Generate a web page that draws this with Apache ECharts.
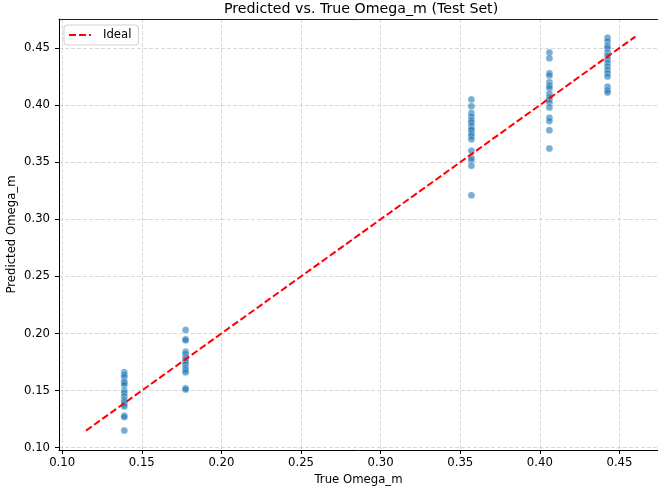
<!DOCTYPE html>
<html>
<head>
<meta charset="utf-8">
<script src="https://cdn.jsdelivr.net/npm/echarts@6/dist/echarts.min.js"></script>
<style>
html,body{margin:0;padding:0;background:#fff;}
#chart{width:658px;height:492px;}
</style>
</head>
<body>
<div id="chart"></div>
<script>
// True Omega_m values of the test-set groups
const trueValues = [0.139, 0.1775, 0.357, 0.406, 0.4425];
// Predicted Omega_m values for each group
const predGroup1 = [0.166, 0.164, 0.162, 0.158, 0.157, 0.155, 0.150, 0.148, 0.145, 0.142, 0.140, 0.138, 0.136, 0.128, 0.127, 0.115];
const predGroup2 = [0.203, 0.195, 0.194, 0.184, 0.182, 0.179, 0.177, 0.175, 0.173, 0.170, 0.168, 0.166, 0.152, 0.151];
const predGroup3 = [0.405, 0.399, 0.393, 0.390, 0.387, 0.385, 0.382, 0.379, 0.378, 0.375, 0.373, 0.370, 0.360, 0.354, 0.352, 0.347, 0.321];
const predGroup4 = [0.446, 0.441, 0.428, 0.426, 0.420, 0.417, 0.415, 0.410, 0.407, 0.405, 0.402, 0.398, 0.389, 0.386, 0.378, 0.362];
const predGroup5 = [0.459, 0.456, 0.452, 0.450, 0.446, 0.443, 0.440, 0.437, 0.434, 0.431, 0.428, 0.425, 0.416, 0.413, 0.411];
const idealLine = [0.115, 0.46];

const groups = [predGroup1, predGroup2, predGroup3, predGroup4, predGroup5];
const scatterData = [];
groups.forEach((g, i) => g.forEach(v => scatterData.push([trueValues[i], v])));

const font = 'DejaVu Sans';
const fs = 11.7;
const X_MIN = 0.098, X_MAX = 0.4742, Y_MIN = 0.098, Y_MAX = 0.4754;

const chart = echarts.init(document.getElementById('chart'), null, {renderer: 'canvas'});
chart.setOption({
  animation: false,
  backgroundColor: '#fff',
  title: {
    text: 'Predicted vs. True Omega_m (Test Set)',
    left: 219, top: -3,
    textStyle: {fontFamily: font, fontSize: 14.2, fontWeight: 'normal', color: '#000'}
  },
  grid: {left: 59, top: 19, right: 0, bottom: 42, show: false, containLabel: false, outerBoundsMode: 'none'},
  legend: {
    left: 64, top: 25,
    data: [{name: 'Ideal', itemStyle: {opacity: 0}}],
    itemWidth: 22, itemHeight: 8,
    backgroundColor: 'rgba(255,255,255,0.8)',
    borderColor: '#d0d0d0', borderWidth: 1, borderRadius: 3,
    padding: [4, 7, 4, 4], itemGap: 8,
    textStyle: {fontFamily: font, fontSize: fs, color: '#000', padding: [0, 0, 0, 7]}
  },
  xAxis: [{
    type: 'value', min: X_MIN, max: X_MAX, splitNumber: 7,
    name: 'True Omega_m', nameLocation: 'middle', nameGap: 23,
    nameTextStyle: {fontFamily: font, fontSize: fs, color: '#000'},
    axisLine: {show: true, onZero: false, lineStyle: {color: '#000', width: 1}},
    axisTick: {show: true, length: 4, lineStyle: {color: '#000'}},
    axisLabel: {showMinLabel: false, showMaxLabel: false, fontFamily: font, fontSize: fs, color: '#000', margin: 7, formatter: v => v.toFixed(2)},
    splitLine: {show: true, showMinLine: false, showMaxLine: false, lineStyle: {color: '#cfcfcf', type: [4, 2], width: 0.8}}
  }, {
    type: 'value', position: 'top', min: X_MIN, max: X_MAX,
    axisLine: {show: true, onZero: false, lineStyle: {color: '#222', width: 1}},
    axisTick: {show: false}, axisLabel: {show: false}, splitLine: {show: false}
  }],
  yAxis: {
    type: 'value', min: Y_MIN, max: Y_MAX, splitNumber: 7,
    name: 'Predicted Omega_m', nameLocation: 'middle', nameGap: 41, nameMoveOverlap: false,
    nameTextStyle: {fontFamily: font, fontSize: fs, color: '#000'},
    axisLine: {show: true, onZero: false, lineStyle: {color: '#000', width: 1}},
    axisTick: {show: true, length: 4, lineStyle: {color: '#000'}},
    axisLabel: {showMinLabel: false, showMaxLabel: false, fontFamily: font, fontSize: fs, color: '#000', margin: 9, formatter: v => v.toFixed(2)},
    splitLine: {show: true, showMinLine: false, showMaxLine: false, lineStyle: {color: '#cfcfcf', type: [4, 2], width: 0.8}}
  },
  series: [
    {
      name: 'points', type: 'scatter', data: scatterData, symbolSize: 7,
      itemStyle: {color: '#1f77b4', opacity: 0.6, borderColor: '#fff', borderWidth: 0.5},
      z: 2
    },
    {
      name: 'Ideal', type: 'line', data: [[idealLine[0], idealLine[0]], [idealLine[1], idealLine[1]]],
      symbol: 'none', lineStyle: {color: '#ff0000', width: 2, type: [7, 3]}, itemStyle: {color: '#ff0000'},
      z: 3
    }
  ]
});
</script>
</body>
</html>
